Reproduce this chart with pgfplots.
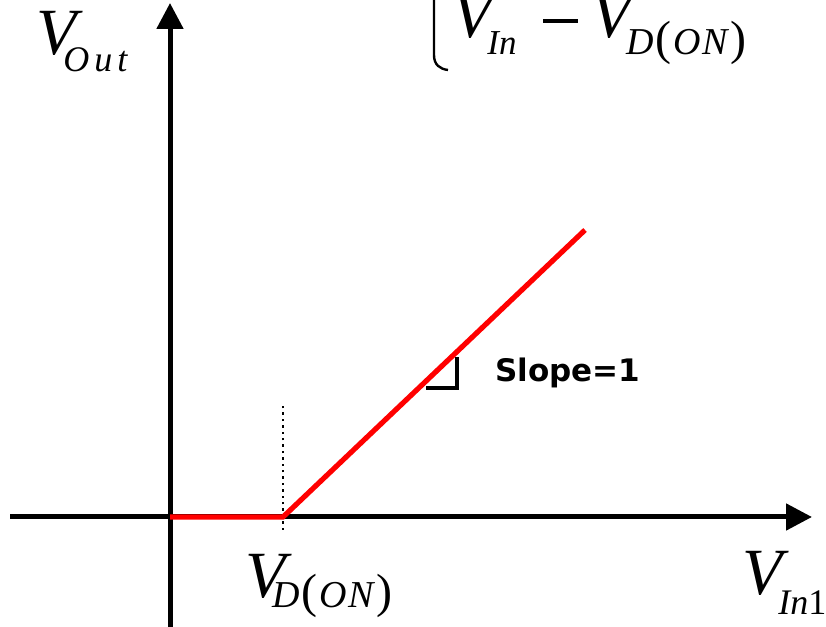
\documentclass[border=0pt]{standalone}
\usepackage{fontspec}
\setmainfont{Liberation Serif}
\newfontfamily\dvb{DejaVu Sans}[BoldFont={DejaVu Sans Bold}]
\usepackage{pgfplots}
\pgfplotsset{compat=1.18}
\usetikzlibrary{arrows.meta}
\newcommand{\bigV}{\fontsize{33}{36}\selectfont\itshape V}
\newcommand{\DON}{\fontsize{19}{22}\selectfont\itshape D\kern1pt{\upshape\fontsize{24}{26}\selectfont(}\kern1pt O\kern0.5pt N\kern1.5pt{\upshape\fontsize{24}{26}\selectfont)}}
\begin{document}
\begin{tikzpicture}
\useasboundingbox (0,0) rectangle (413pt,313.5pt);
\clip (0,0) rectangle (413pt,313.5pt);
\begin{axis}[at={(0,0)}, anchor=south west, scale only axis,
  width=413pt, height=313.5pt, xmin=0, xmax=826, ymin=0, ymax=627,
  hide axis, clip=false]
% axes
\addplot[black, line width=2.5pt, -{Triangle[length=13pt,width=13pt]}] coordinates {(10,110) (812,110)};
\addplot[black, line width=2.5pt, -{Triangle[length=13pt,width=13pt]}] coordinates {(170,0) (170,624)};
% dotted marker
\addplot[black, line width=1.2pt, dotted] coordinates {(283,97) (283,222)};
% characteristic
\addplot[red, line width=2.6pt, line join=miter] coordinates {(170,110) (283,110) (585,397)};
% slope marker
\addplot[black, line width=2.2pt, line join=miter] coordinates {(426,239) (457,239) (457,270)};
\node[anchor=base west, inner sep=0pt] at (axis cs:495,245) {\fontsize{15.5}{18}\selectfont\dvb\bfseries Slope=1};
% labels
\node[anchor=base west, inner sep=0pt] at (axis cs:36,572) {\bigV};
\node[anchor=base west, inner sep=0pt] at (axis cs:63,555) {\fontsize{18}{20}\selectfont\itshape O\kern2.5pt u\kern2.5pt t};
\node[anchor=base west, inner sep=0pt] at (axis cs:245,29) {\bigV};
\node[anchor=base west, inner sep=0pt] at (axis cs:272,19) {\DON};
\node[anchor=base west, inner sep=0pt] at (axis cs:742,32) {\bigV};
\node[anchor=base west, inner sep=0pt] at (axis cs:778,12) {\fontsize{18}{20}\selectfont{\itshape In}1};
% top formula
\addplot[black, line width=1.2pt] coordinates {(434,627) (434,572)} -- (axis cs:434,572) .. controls (axis cs:434,562) and (axis cs:440,558) .. (axis cs:448,557);
\node[anchor=base west, inner sep=0pt] at (axis cs:452,589) {\bigV};
\node[anchor=base west, inner sep=0pt] at (axis cs:487,572) {\fontsize{17.5}{20}\selectfont\itshape In};
\addplot[black, line width=2pt] coordinates {(543,606) (578,606)};
\node[anchor=base west, inner sep=0pt] at (axis cs:591,589) {\bigV};
\node[anchor=base west, inner sep=0pt] at (axis cs:626,572) {\DON};
\end{axis}
\end{tikzpicture}
\end{document}
